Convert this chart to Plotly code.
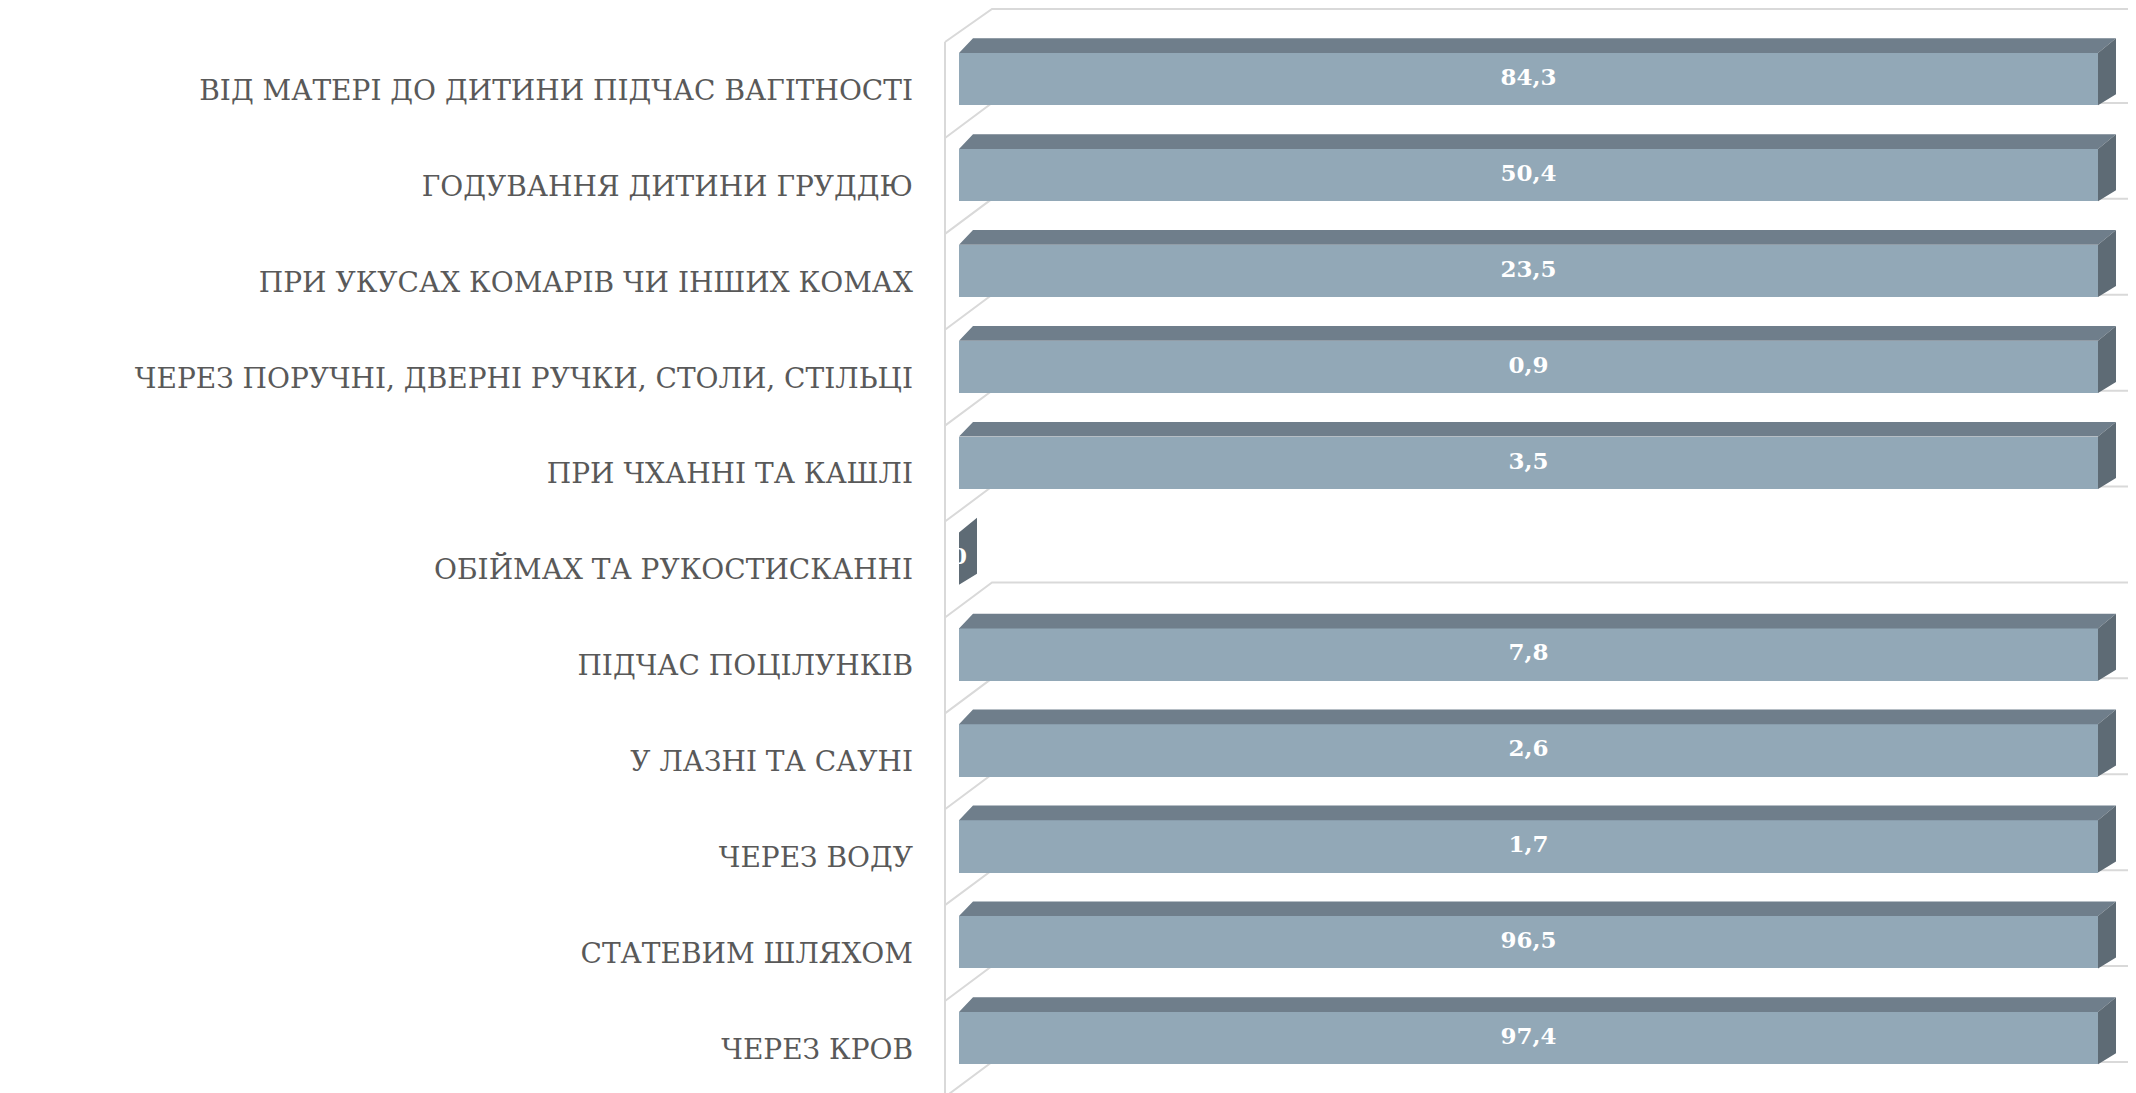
import plotly.graph_objects as go

# ---------------- data ----------------
categories = [
    "ВІД МАТЕРІ ДО ДИТИНИ ПІДЧАС ВАГІТНОСТІ",
    "ГОДУВАННЯ ДИТИНИ ГРУДДЮ",
    "ПРИ УКУСАХ КОМАРІВ ЧИ ІНШИХ КОМАХ",
    "ЧЕРЕЗ ПОРУЧНІ, ДВЕРНІ РУЧКИ, СТОЛИ, СТІЛЬЦІ",
    "ПРИ ЧХАННІ ТА КАШЛІ",
    "ОБІЙМАХ ТА РУКОСТИСКАННІ",
    "ПІДЧАС ПОЦІЛУНКІВ",
    "У ЛАЗНІ ТА САУНІ",
    "ЧЕРЕЗ ВОДУ",
    "СТАТЕВИМ ШЛЯХОМ",
    "ЧЕРЕЗ КРОВ",
]
values = [84.3, 50.4, 23.5, 0.9, 3.5, 0, 7.8, 2.6, 1.7, 96.5, 97.4]

# 100% stacked with a single series: each bar's share of its category total
shares = [100.0 * v / v if v else 0.0 for v in values]
labels = [("%.1f" % v).replace(".", ",") if v else "0" for v in values]
idx = list(range(len(categories)))

# ---------------- geometry (page pixels -> data units) ----------------
PAGE_W, PAGE_H = 2136, 1093
OFF = 8                     # default body margin of the html page
W, H = PAGE_W - OFF, PAGE_H - OFF
PLOT_L = 940 - OFF
X0_PX = 959.0 - OFF         # pixel of 0 %
PCT_PX = 11.39              # pixels per 1 %
Y0_PX = 90.0 - OFF          # pixel centre of first category slot
SLOT_PX = 95.9              # pixels per category


def dx(px):
    return px / PCT_PX


def dy(px):
    return px / SLOT_PX


x_range = [(PLOT_L - X0_PX) / PCT_PX, (W - X0_PX) / PCT_PX]
y_range = [(H - Y0_PX) / SLOT_PX, (0 - Y0_PX) / SLOT_PX]
y_top_visible = (1 - Y0_PX) / SLOT_PX   # 1 px inside the top edge

# bar box relative to slot centre (pixels measured on the page)
front_top = dy(53 - 90)
front_bot = dy(105.3 - 90)
back_top = dy(38.3 - 90)
back_bot = dy(94.3 - 90)
depth_l = dx(14)
depth_r = dx(18)

FRONT = "#92A8B7"
TOP = "#6F7E8B"
SIDE = "#5E6B75"
GRID = "#D9D9D9"

fig = go.Figure()

# front faces
fig.add_trace(go.Bar(
    x=shares, y=idx, orientation="h",
    offset=front_top, width=front_bot - front_top,
    marker=dict(color=FRONT, line=dict(width=0)),
    hoverinfo="skip", showlegend=False,
))

# top faces
tx, ty = [], []
for i, s in zip(idx, shares):
    if s <= 0:
        continue
    tx += [0, s, s + depth_r, depth_l, 0, None]
    ty += [i + front_top, i + front_top, i + back_top, i + back_top, i + front_top, None]
fig.add_trace(go.Scatter(
    x=tx, y=ty, mode="lines", fill="toself", fillcolor=TOP,
    line=dict(width=0, color=TOP), hoverinfo="skip", showlegend=False,
))

# side faces
sx, sy = [], []
for i, s in zip(idx, shares):
    sx += [s, s + depth_r, s + depth_r, s, s, None]
    sy += [i + front_top, i + back_top, i + back_bot, i + front_bot, i + front_top, None]
fig.add_trace(go.Scatter(
    x=sx, y=sy, mode="lines", fill="toself", fillcolor=SIDE,
    line=dict(width=0, color=SIDE), hoverinfo="skip", showlegend=False,
))

# data labels
fig.add_trace(go.Scatter(
    x=[s / 2 for s in shares],
    y=[i + (front_top + front_bot) / 2 for i in idx],
    mode="text", text=labels, textposition="middle center",
    textfont=dict(family="DejaVu Serif", size=23, color="white", weight="bold"),
    hoverinfo="skip", showlegend=False,
))

# walls / gridlines (decoration)
wall_front_x = dx(945 - 959)
wall_back_x = dx(992 - 959)
grid_right_x = dx(2130 - 959)
wall_dy = dy(35)
shapes = []
for k in range(len(categories) + 1):
    yf = k - 0.5
    yb = max(yf - wall_dy, y_top_visible)
    shapes.append(dict(
        type="path", xref="x", yref="y", layer="below",
        path=f"M {wall_front_x},{yf} L {wall_back_x},{yb} L {grid_right_x},{yb}",
        line=dict(color=GRID, width=2),
    ))
shapes.append(dict(
    type="line", xref="x", yref="y", layer="below",
    x0=wall_front_x, x1=wall_front_x, y0=-0.5, y1=len(categories) + 0.5,
    line=dict(color=GRID, width=2),
))

fig.update_layout(
    width=W, height=H,
    margin=dict(l=PLOT_L, r=0, t=0, b=0, pad=0),
    paper_bgcolor="white", plot_bgcolor="white",
    shapes=shapes,
    xaxis=dict(range=x_range, visible=False, fixedrange=True),
    yaxis=dict(
        range=y_range, tickmode="array", tickvals=idx, ticktext=categories,
        showgrid=False, zeroline=False, showline=False, ticks="",
        ticklabelstandoff=26,
        tickfont=dict(family="DejaVu Serif", size=28, color="#595959"),
        fixedrange=True,
    ),
    bargap=0,
)

fig.write_html("out.html")
